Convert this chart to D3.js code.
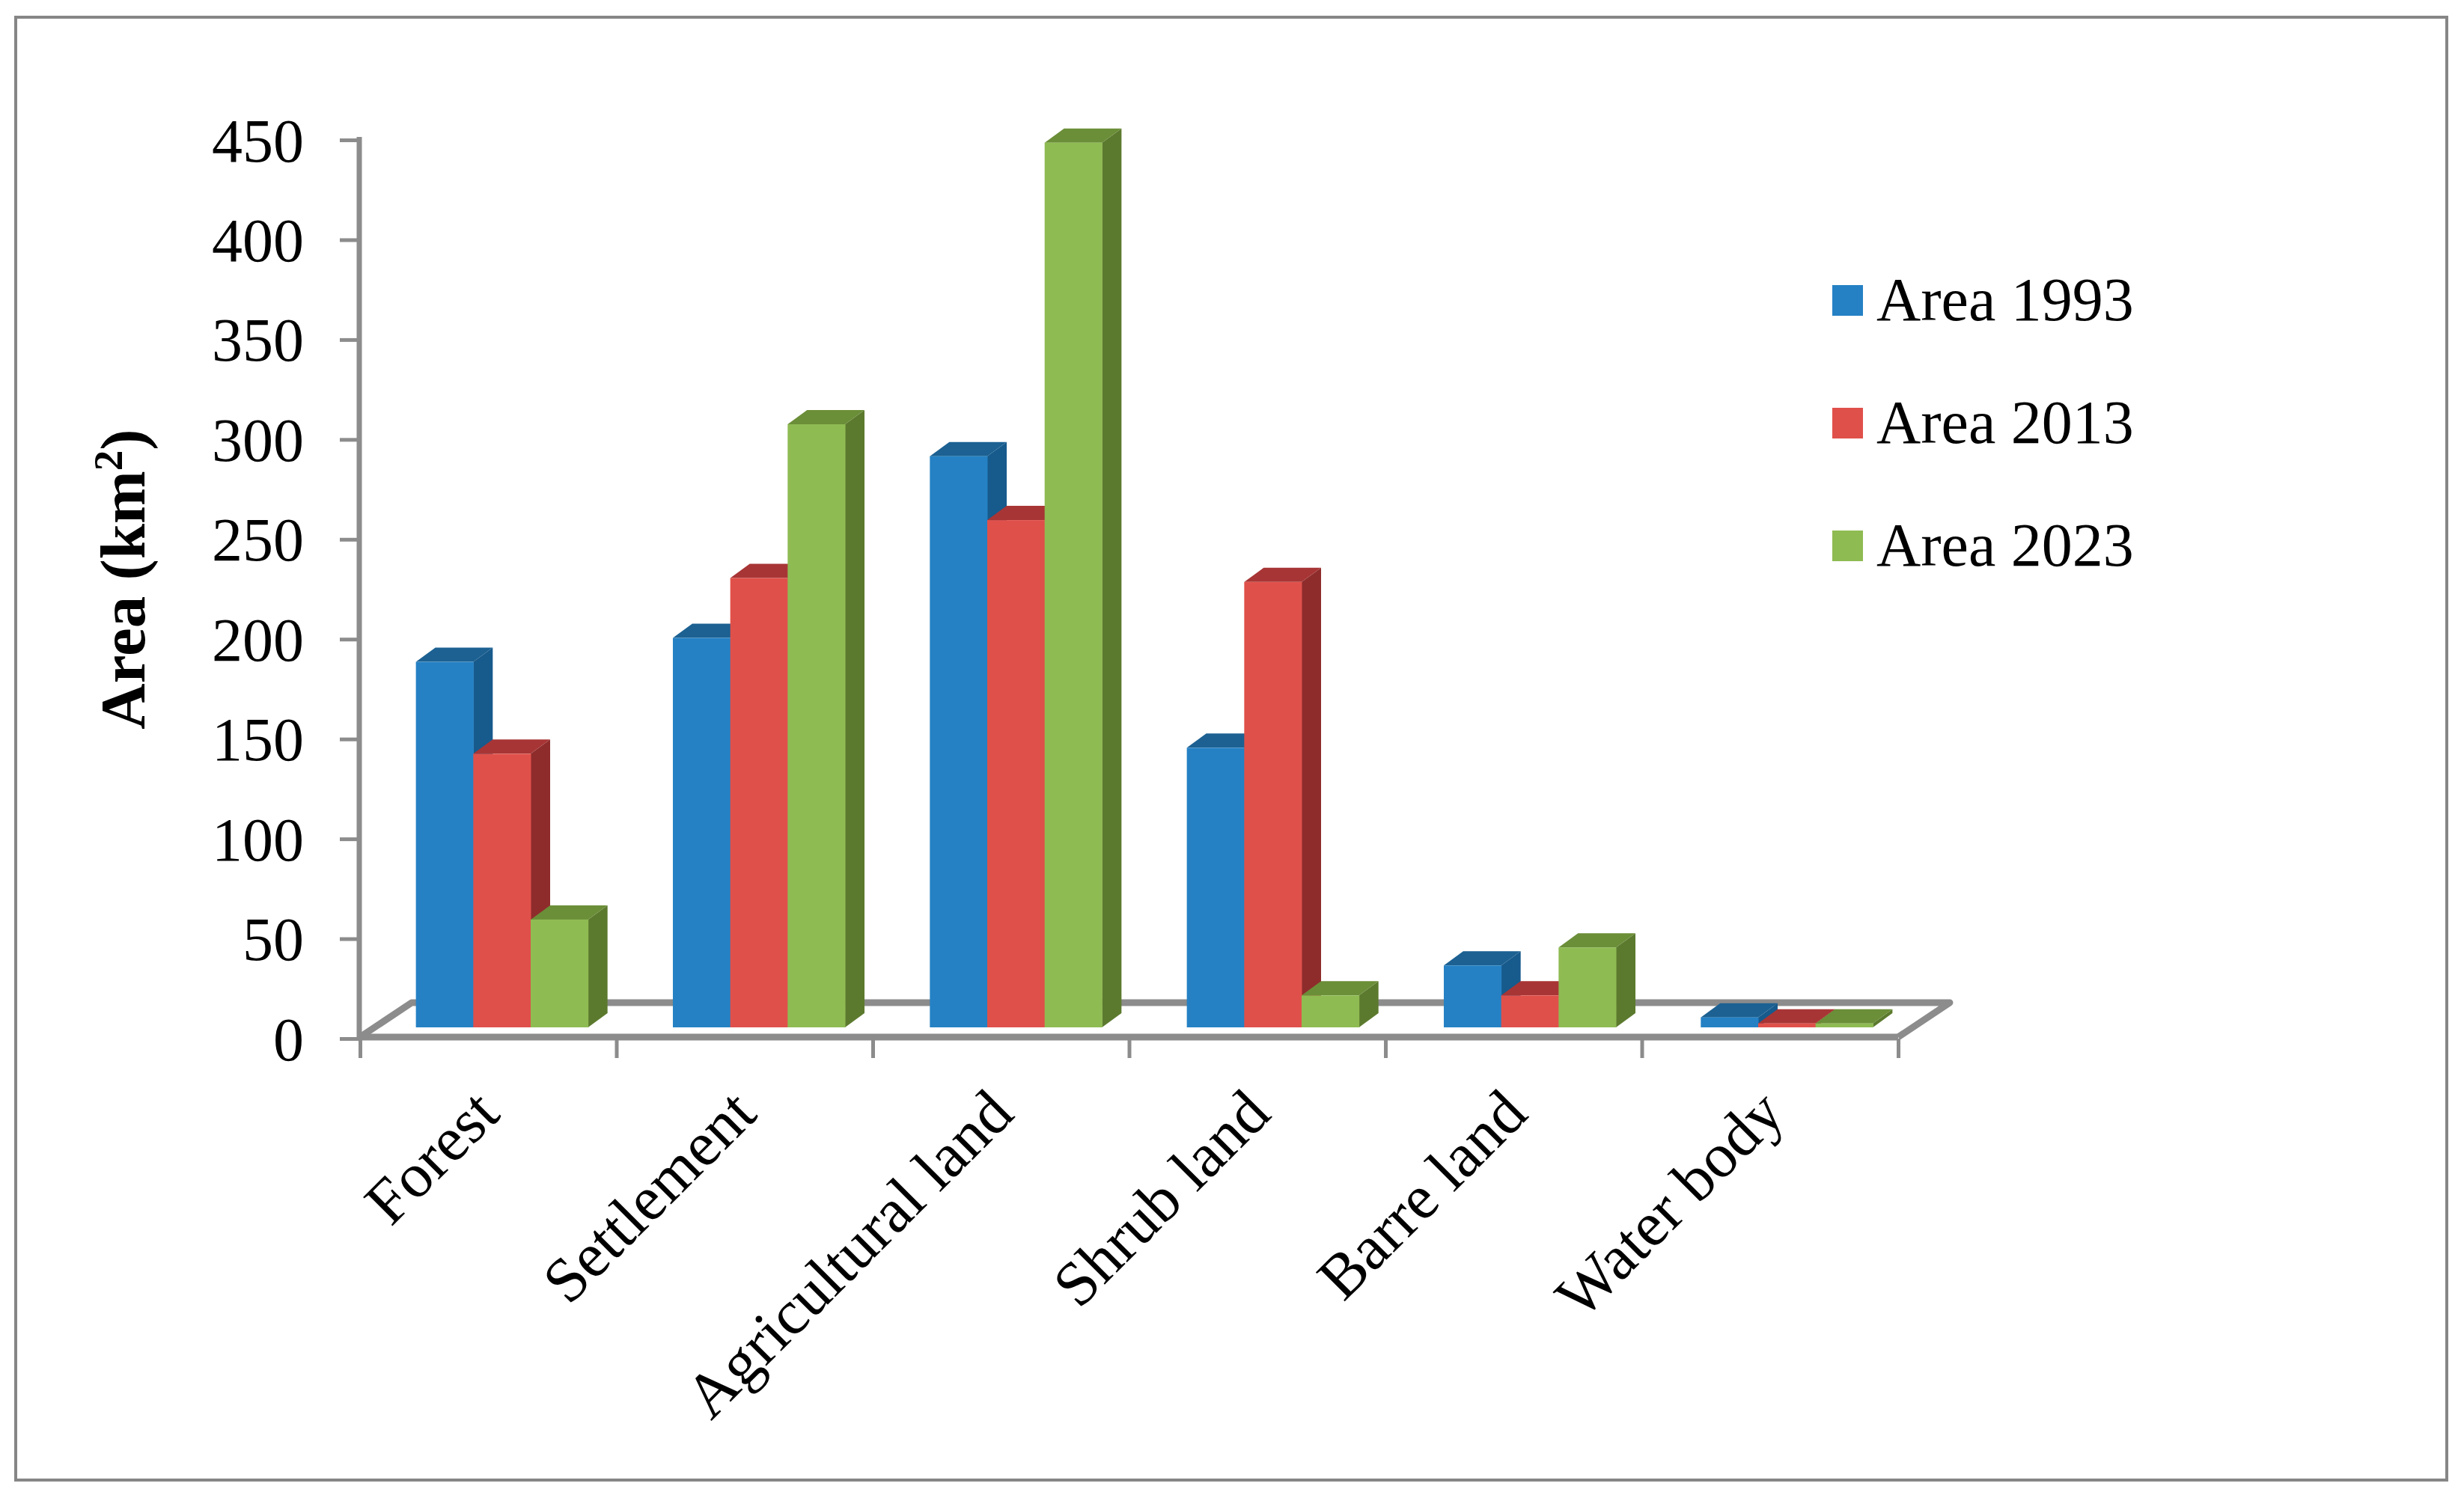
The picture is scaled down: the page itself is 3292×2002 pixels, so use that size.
<!DOCTYPE html>
<html><head><meta charset="utf-8">
<script src="https://cdn.jsdelivr.net/npm/d3@7/dist/d3.min.js"></script>
<style>html,body{margin:0;padding:0;background:#fff}svg{display:block}text{font-family:"Liberation Serif",serif;fill:#000}</style>
</head><body><svg id="c" width="3292" height="2002"></svg>
<script>
const categories=["Forest","Settlement","Agricultural land","Shrub land","Barre land","Water body"];
const seriesNames=["Area 1993","Area 2013","Area 2023"];
const area1993=[183,195,286,140,31,5];
const area2013=[137,225,254,223,16,2];
const area2023=[54,302,443,16,40,2];
const yTicks=[0,50,100,150,200,250,300,350,400,450];
const frontColors=["#2581C4","#E0504A","#8FBB53"];
const topColors=["#1C6192","#A83535","#6B8E38"];
const sideColors=["#175A8C","#8E2C2C","#5C7A2E"];
const seriesValues=[area1993,area2013,area2023];

const svg=d3.select("#c");
const axisColor="#8C8C8C";
const L=481,R=2536,Y0=1388,Y450=187;
const depthX=26,depthY=19;
const floorBack={dx:69,dy:-46};
const barBase=15,barShift=18;

// border
svg.append("rect").attr("x",21).attr("y",23).attr("width",3248).attr("height",1955)
  .attr("fill","#fff").attr("stroke","#868686").attr("stroke-width",4);

const y=d3.scaleLinear().domain([0,450]).range([Y0,Y450]);
const yBar=d3.scaleLinear().domain([0,450]).range([Y0-barBase,Y450-barBase]);
const x=d3.scaleBand().domain(categories).range([L+barShift,R+barShift+5]).paddingInner(0.33).paddingOuter(0.165);
const xs=d3.scaleBand().domain(d3.range(3)).range([0,x.bandwidth()]);
const xTickScale=d3.scaleLinear().domain([0,categories.length]).range([L,R]);

// floor
svg.append("path")
  .attr("d",d3.line()([[L,Y0-2],[L+floorBack.dx,Y0-2+floorBack.dy],[R+floorBack.dx,Y0-2+floorBack.dy],[R,Y0-2]]))
  .attr("fill","none").attr("stroke",axisColor).attr("stroke-width",9).attr("stroke-linejoin","round");
svg.append("line").attr("x1",L).attr("x2",R).attr("y1",Y0-2).attr("y2",Y0-2).attr("stroke",axisColor).attr("stroke-width",9);

// y axis
const gy=svg.append("g").attr("transform",`translate(${L-1},0)`)
  .call(d3.axisLeft(y).tickValues(yTicks).tickSize(26).tickPadding(48));
gy.select(".domain").attr("stroke",axisColor).attr("stroke-width",7).attr("d",`M0,${Y450-4}V${Y0}`);
gy.selectAll(".tick line").attr("stroke",axisColor).attr("stroke-width",5);
gy.selectAll(".tick text").attr("font-size",82).attr("fill","#000").attr("dy",28)
  .style("font-family",'"Liberation Serif",serif');

// x axis ticks
const gx=svg.append("g").attr("transform",`translate(0,${Y0})`)
  .call(d3.axisBottom(xTickScale).ticks(categories.length).tickSize(26).tickFormat(""));
gx.select(".domain").remove();
gx.selectAll(".tick line").attr("stroke",axisColor).attr("stroke-width",5);

// bars
const groups=svg.append("g").selectAll("g").data(categories).join("g");
groups.each(function(cat,ci){
  const g=d3.select(this);
  seriesValues.forEach((vals,si)=>{
    const v=vals[ci];
    const x0=x(cat)+xs(si),w=xs.bandwidth(),yt=yBar(v),yb=yBar(0);
    g.append("path").attr("fill",sideColors[si])
      .attr("d",d3.line()([[x0+w,yt],[x0+w+depthX,yt-depthY],[x0+w+depthX,yb-depthY],[x0+w,yb]])+"Z");
    g.append("path").attr("fill",topColors[si])
      .attr("d",d3.line()([[x0,yt],[x0+depthX,yt-depthY],[x0+w+depthX,yt-depthY],[x0+w,yt]])+"Z");
    g.append("rect").attr("x",x0).attr("y",yt).attr("width",w+0.5).attr("height",yb-yt).attr("fill",frontColors[si]);
  });
});

// category labels
svg.append("g").selectAll("text").data(categories).join("text")
  .attr("font-size",84).attr("text-anchor","end")
  .attr("transform",d=>`translate(${x(d)+x.bandwidth()/2},${Y0+104}) rotate(-45)`)
  .text(d=>d);

// y title
const title=svg.append("text").attr("font-size",85).attr("font-weight","bold").attr("text-anchor","middle")
  .attr("transform",`translate(193,774) rotate(-90)`);
title.append("tspan").text("Area (km");
title.append("tspan").text("2").attr("font-size",55).attr("dy",-30);
title.append("tspan").text(")").attr("dy",30);

// legend
const lg=svg.append("g").selectAll("g").data(seriesNames).join("g")
  .attr("transform",(d,i)=>`translate(2448,${[401,565,729][i]})`);
lg.append("rect").attr("x",0).attr("y",-20).attr("width",41).attr("height",41).attr("fill",(d,i)=>frontColors[i]);
lg.append("text").attr("x",59).attr("y",27).attr("font-size",82).text(d=>d);
</script></body></html>
